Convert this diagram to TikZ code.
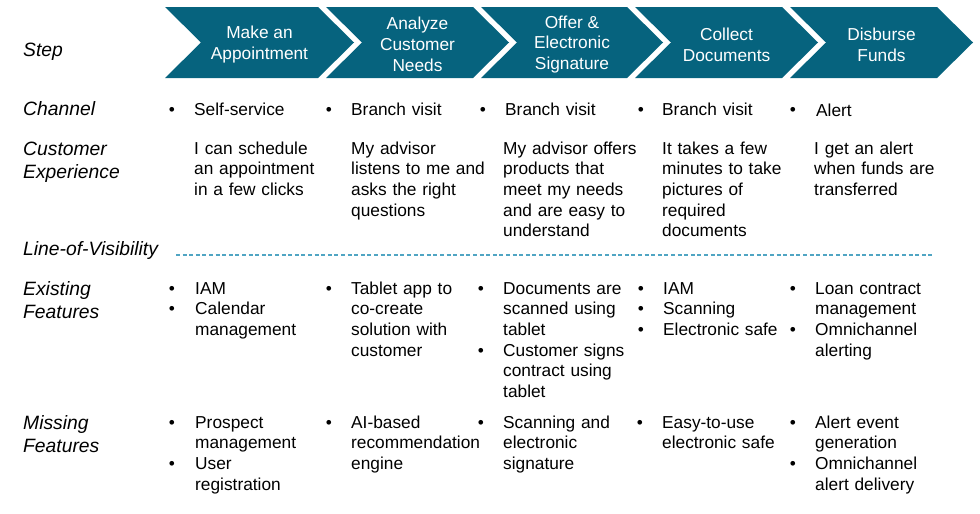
\documentclass[tikz,border=0pt]{standalone}
\usepackage{fontspec}
\setmainfont{Liberation Sans}
\definecolor{stepteal}{RGB}{6,99,126}
\definecolor{lovblue}{RGB}{80,165,195}
\newcommand\fsz{\fontsize{17.3}{20.7}\selectfont}
\newcommand\lsz{\fontsize{19.3}{23}\selectfont}
\begin{document}
\begin{tikzpicture}[x=1pt,y=-1pt,
  lbl/.style={anchor=base west, inner sep=0pt, font=\lsz\itshape, text width=170pt, align=left},
  cell/.style={anchor=base west, inner sep=0pt, font=\fsz, text width=150pt, align=left},
  bul/.style={anchor=base, inner sep=0pt, font=\fsz},
  steptext/.style={anchor=center, inner sep=0pt, font=\fsz, text=white, align=center},
  chev/.style={fill=stepteal},
  lovline/.style={draw=lovblue, line width=1.4pt, dash pattern=on 4pt off 2.6pt}]
\useasboundingbox (0,0) rectangle (980,514);
% chevrons
\foreach \L/\R in {165/318, 326/473, 481/627, 635/782, 790/937}
  \fill[chev] (\L,7) -- (\R,7) -- (\R+36,42.5) -- (\R,78) -- (\L,78) -- (\L+36,42.5) -- cycle;
\node[steptext] (s1) at (259.5,44.5) {Make an\\Appointment};
\node[steptext] (s2) at (417.5,44.5) {Analyze\\Customer\\Needs};
\node[steptext] (s3) at (572,44.5) {Offer \&\\Electronic\\Signature};
\node[steptext] (s4) at (726.5,44.5) {Collect\\Documents};
\node[steptext] (s5) at (881.5,44.5) {Disburse\\Funds};
% row labels
\node[lbl] (lstep) at (23,56) {Step};
\node[lbl] (lchan) at (23,115.5) {Channel};
\node[lbl] (lce) at (23,155) {Customer\\Experience};
\node[lbl] (llov) at (23,255) {Line-of-Visibility};
\node[lbl] (lex) at (23,295) {Existing\\Features};
\node[lbl] (lmis) at (23,429) {Missing\\Features};
% channel row
\node[bul] (bc1) at (172,115) {•};
\node[bul] (bc2) at (329,115) {•};
\node[bul] (bc3) at (483,115) {•};
\node[bul] (bc4) at (641,115) {•};
\node[bul] (bc5) at (793,115) {•};
\node[cell] (ch1) at (194,115) {Self-service};
\node[cell] (ch2) at (351,115) {Branch visit};
\node[cell] (ch3) at (505,115) {Branch visit};
\node[cell] (ch4) at (662,115) {Branch visit};
\node[cell] (ch5) at (816,116) {Alert};
% customer experience row
\node[cell] (ce1) at (194,154) {I can schedule\\an appointment\\in a few clicks};
\node[cell] (ce2) at (351,154) {My advisor\\listens to me and\\asks the right\\questions};
\node[cell] (ce3) at (503,154) {My advisor offers\\products that\\meet my needs\\and are easy to\\understand};
\node[cell] (ce4) at (662,154) {It takes a few\\minutes to take\\pictures of\\required\\documents};
\node[cell] (ce5) at (814,154) {I get an alert\\when funds are\\transferred};
% line of visibility
\coordinate (lovA) at (176,255);
\coordinate (lovB) at (932,255);
\draw[lovline] (lovA) -- (lovB);
% existing features
\node[bul] (be11) at (172,294) {•};
\node[bul] (be12) at (172,314.7) {•};
\node[cell] (ex1) at (195,294) {IAM\\Calendar\\management};
\node[bul] (be21) at (329,294) {•};
\node[cell] (ex2) at (351,294) {Tablet app to\\co-create\\solution with\\customer};
\node[bul] (be31) at (481,294) {•};
\node[bul] (be32) at (481,356.1) {•};
\node[cell] (ex3) at (503,294) {Documents are\\scanned using\\tablet\\Customer signs\\contract using\\tablet};
\node[bul] (be41) at (641,294) {•};
\node[bul] (be42) at (641,314.7) {•};
\node[bul] (be43) at (641,335.4) {•};
\node[cell] (ex4) at (663,294) {IAM\\Scanning\\Electronic safe};
\node[bul] (be51) at (793,294) {•};
\node[bul] (be52) at (793,335.4) {•};
\node[cell] (ex5) at (815,294) {Loan contract\\management\\Omnichannel\\alerting};
% missing features
\node[bul] (bm11) at (172,428) {•};
\node[bul] (bm12) at (172,469.4) {•};
\node[cell] (mi1) at (195,428) {Prospect\\management\\User\\registration};
\node[bul] (bm21) at (329,428) {•};
\node[cell] (mi2) at (351,428) {AI-based\\recommendation\\engine};
\node[bul] (bm31) at (481,428) {•};
\node[cell] (mi3) at (503,428) {Scanning and\\electronic\\signature};
\node[bul] (bm41) at (640,428) {•};
\node[cell] (mi4) at (662,428) {Easy-to-use\\electronic safe};
\node[bul] (bm51) at (793,428) {•};
\node[bul] (bm52) at (793,469.4) {•};
\node[cell] (mi5) at (815,428) {Alert event\\generation\\Omnichannel\\alert delivery};
\end{tikzpicture}
\end{document}
